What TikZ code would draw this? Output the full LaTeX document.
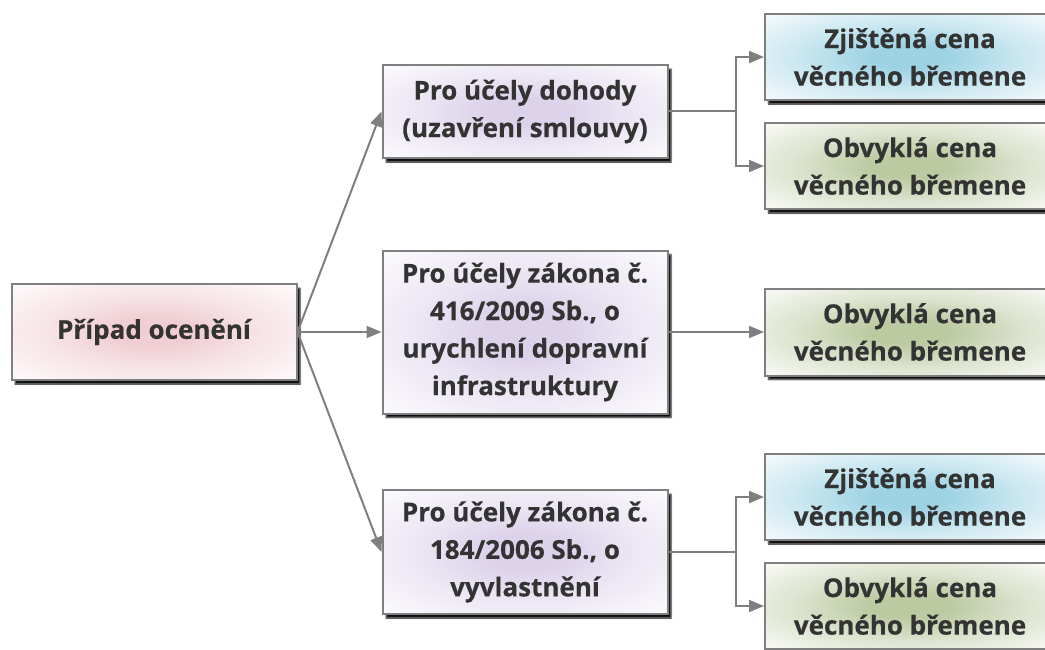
\documentclass[tikz,border=0pt]{standalone}
\usepackage{fontspec}
\setmainfont{Open Sans}[BoldFeatures={FakeBold=0.4}]
\usetikzlibrary{arrows.meta,shadows.blur}

\definecolor{edge}{HTML}{7F7F7F}
\definecolor{ink}{HTML}{333333}
\definecolor{rosetint}{RGB}{240,206,211}
\definecolor{liltint}{RGB}{220,210,234}
\definecolor{cyantint}{RGB}{158,211,228}
\definecolor{olivetint}{RGB}{188,202,162}

% soft centred glow that fades to white towards the box border
\colorlet{glow}{white}
\pgfdeclareradialshading[glow]{boxglow}{\pgfpointorigin}{%
  color(0bp)=(glow);color(7bp)=(glow);color(19bp)=(glow!55!white);%
  color(33bp)=(glow!15!white);color(46bp)=(white);color(50bp)=(white)}

\tikzset{
  glowing/.code={\colorlet{glow}{#1}},
  card/.style={draw=edge, line width=2pt, shading=boxglow, text=ink,
    font=\bfseries\fontsize{26}{37.5}\selectfont, align=center,
    inner sep=0pt, minimum width=285pt,
    blur shadow={shadow xshift=3.5pt, shadow yshift=-4pt,
      shadow blur radius=1.5pt, shadow opacity=95, shadow blur steps=5}},
  outcome/.style={card, minimum width=290pt, minimum height=86pt},
  link/.style={draw=edge, line width=2pt, -{Triangle[length=15pt,width=12pt]}},
  plain/.style={draw=edge, line width=2pt}
}

\begin{document}
\begin{tikzpicture}[x=1pt,y=-1pt]
\useasboundingbox (0,0) rectangle (1045,650);

% root case
\node[card, glowing=rosetint, minimum height=96pt] (root) at (154,332) {Případ ocenění};

% purposes
\node[card, glowing=liltint, minimum height=93pt] (p1) at (525,111.5)
  {Pro účely dohody\\(uzavření smlouvy)};
\node[card, glowing=liltint, minimum height=163pt] (p2) at (525,332)
  {Pro účely zákona č.\\416/2009 Sb., o\\urychlení dopravní\\infrastruktury};
\node[card, glowing=liltint, minimum height=124pt] (p3) at (525,552)
  {Pro účely zákona č.\\184/2006 Sb., o\\vyvlastnění};

% resulting prices
\node[outcome, glowing=cyantint] (r1) at (910,57) {Zjištěná cena\\věcného břemene};
\node[outcome, glowing=olivetint] (r2) at (910,166) {Obvyklá cena\\věcného břemene};
\node[outcome, glowing=olivetint, minimum height=87pt] (r3) at (910,332) {Obvyklá cena\\věcného břemene};
\node[outcome, glowing=cyantint] (r4) at (910,497) {Zjištěná cena\\věcného břemene};
\node[outcome, glowing=olivetint] (r5) at (910,606) {Obvyklá cena\\věcného břemene};

% connectors
\draw[link] (root.east) -- (p1.west);
\draw[link] (root.east) -- (p2.west);
\draw[link] (root.east) -- (p3.west);

\coordinate (j1) at (736,111.5);
\draw[plain] (p1.east) -- (j1);
\draw[link] (j1) |- (r1.west);
\draw[link] (j1) |- (r2.west);

\draw[link] (p2.east) -- (r3.west);

\coordinate (j3) at (736,552);
\draw[plain] (p3.east) -- (j3);
\draw[link] (j3) |- (r4.west);
\draw[link] (j3) |- (r5.west);
\end{tikzpicture}
\end{document}
